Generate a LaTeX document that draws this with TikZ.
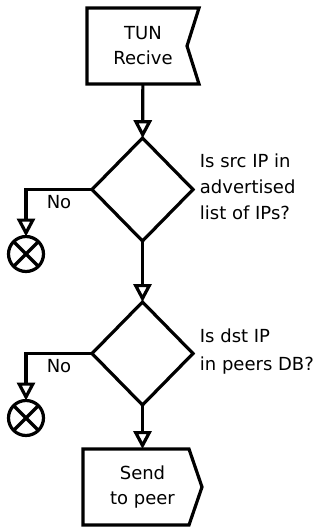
\documentclass[tikz,border=0pt]{standalone}
\usepackage{fontspec}
\setmainfont{DejaVu Sans}
\usetikzlibrary{shapes.geometric,arrows.meta,calc}

\begin{document}
\begin{tikzpicture}[x=1pt,y=-1pt,line width=3.2pt,
        every node/.style={font=\fontsize{18}{25}\selectfont},
        box/.style={minimum height=76pt,inner sep=0pt,outer sep=0pt,align=center},
        decision/.style={diamond,draw,minimum width=101pt,minimum height=103pt,inner sep=0pt,outer sep=0pt},
        sink/.style={circle,draw,minimum size=35pt,inner sep=0pt,outer sep=0pt},
        flow/.style={-{Triangle[open,length=18pt,width=18pt]}}]
            \useasboundingbox (0,0) rectangle (320,528);
            % start and end boxes
            \node[box,minimum width=112pt] (tun) at (143,46) {TUN\\Recive};
            \draw (tun.north west) -- (tun.north east) -- ($(tun.east)+(-12,0)$)
                -- (tun.south east) -- (tun.south west) -- cycle;
            \node[box,minimum width=119pt] (send) at (142.5,487) {Send\\to peer};
            \draw (send.north west) -- ($(send.north east)+(-13,0)$) -- (send.east)
                -- ($(send.south east)+(-13,0)$) -- (send.south west) -- cycle;
            % checks
            \node[decision] (chk1) at (142.5,189.5) {};
            \node[decision] (chk2) at (142.5,353.5) {};
            \node[anchor=west,align=left,font=\fontsize{18}{26}\selectfont] (q1) at (195,187) {Is src IP in\\advertised\\list of IPs?};
            \node[anchor=west,align=left,font=\fontsize{18}{28}\selectfont] (q2) at (195,352) {Is dst IP\\in peers DB?};
            % drops
            \node[sink] (drop1) at (26,254) {};
            \node[sink] (drop2) at (26,418) {};
            \node (no1) at (59,202) {No};
            \node (no2) at (59,366) {No};
            \draw[flow] (tun) -- (chk1);
            \draw[flow] (chk1) -- (chk2);
            \draw[flow] (chk2) -- (send);
            \foreach \i in {1,2} {
                \draw[flow] (chk\i.west) -| (drop\i.north);
                \draw (drop\i.north west) -- (drop\i.south east)
                    (drop\i.north east) -- (drop\i.south west);
            }
        \end{tikzpicture}
\end{document}
